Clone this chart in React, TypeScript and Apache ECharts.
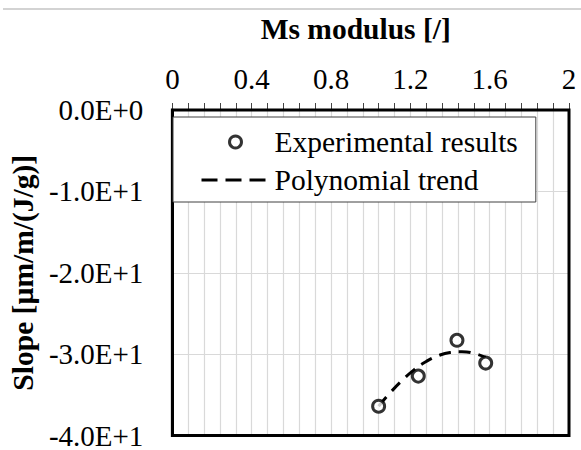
import React, { useEffect, useRef } from "react";
import * as echarts from "echarts";

const xTicks = [0, 0.4, 0.8, 1.2, 1.6, 2];
const yTicks = [-40, -30, -20, -10, 0];

const expModulus = [1.04, 1.24, 1.435, 1.58];
const expSlope = [-36.4, -32.7, -28.3, -31.1];

const trendModulus = [1.04, 1.1, 1.16, 1.22, 1.28, 1.34, 1.4, 1.46, 1.52, 1.58];
const trendSlope = [-36.4, -34.7, -33.2, -31.9, -30.9, -30.2, -29.8, -29.7, -29.9, -30.4];

const FONT = "'Liberation Serif', 'Times New Roman', serif";

function sci(v: number): string {
  if (v === 0) return "0.0E+0";
  const e = Math.floor(Math.log10(Math.abs(v)) + 1e-9);
  const m = v / Math.pow(10, e);
  return `${m.toFixed(1)}E+${e}`;
}

export default function App() {
  const ref = useRef<HTMLDivElement>(null);
  useEffect(() => {
    if (!ref.current) return;
    const chart = echarts.init(ref.current, null, { renderer: "svg" });
    const gridColor = "#d9d9d9";
    chart.setOption({
      animation: false,
      backgroundColor: "#ffffff",
      graphic: [
        {
          type: "line",
          shape: { x1: 3, y1: 9, x2: 581, y2: 9 },
          style: { stroke: "#c4c4c4", lineWidth: 1.5 },
        },
      ],
      grid: {
        left: 167,
        right: 12,
        top: 110,
        bottom: 8,
        show: true,
        borderColor: "#000",
        borderWidth: 3,
        backgroundColor: "transparent",
        z: 3,
      },
      legend: {
        orient: "vertical",
        left: 173,
        top: 117,
        padding: [10, 18, 7, 27],
        itemGap: 8,
        itemWidth: 68,
        itemHeight: 12,
        backgroundColor: "#ffffff",
        borderColor: "#404040",
        borderWidth: 1,
        borderRadius: 0,
        textStyle: { fontFamily: FONT, fontSize: 29.5, color: "#000" },
        lineStyle: { type: [16, 8], width: 3 },
        data: [
          {
            name: "Experimental results",
            itemStyle: { color: "#fff", borderColor: "#000", borderWidth: 3 },
          },
          {
            name: "Polynomial trend",
            itemStyle: { opacity: 0, color: "transparent", borderWidth: 0 },
          },
        ],
      },
      xAxis: {
        type: "value",
        position: "top",
        min: xTicks[0],
        max: xTicks[xTicks.length - 1],
        interval: 0.4,
        name: "Ms modulus [/]",
        nameLocation: "middle",
        nameGap: 66,
        nameTextStyle: {
          fontFamily: FONT,
          fontSize: 29.5,
          fontWeight: "bold",
          color: "#000",
          padding: [0, 30, 0, 0],
        },
        axisLine: { show: true, lineStyle: { color: "#000", width: 1 } },
        axisTick: { show: true, inside: false, length: 7, lineStyle: { color: "#444", width: 1 } },
        minorTick: { show: true, splitNumber: 5, length: 7, lineStyle: { color: "#444", width: 1 } },
        splitLine: { show: true, lineStyle: { color: gridColor, width: 1.2 } },
        minorSplitLine: { show: true, lineStyle: { color: gridColor, width: 1.2 } },
        axisLabel: {
          fontFamily: FONT,
          fontSize: 29,
          color: "#000",
          margin: 17,
          formatter: (v: number) => String(Math.round(v * 10) / 10),
        },
      },
      yAxis: {
        type: "value",
        min: yTicks[0],
        max: yTicks[yTicks.length - 1],
        interval: 10,
        name: "Slope [µm/m/(J/g)]",
        nameLocation: "middle",
        nameGap: 125,
        nameRotate: 90,
        nameTextStyle: { fontFamily: FONT, fontSize: 29.5, fontWeight: "bold", color: "#000" },
        axisLine: { show: true, lineStyle: { color: "#000", width: 3 } },
        axisTick: { show: false },
        splitLine: { show: true, lineStyle: { color: gridColor, width: 1.2 } },
        axisLabel: {
          fontFamily: FONT,
          fontSize: 29,
          color: "#000",
          margin: 29,
          formatter: (v: number) => sci(v),
        },
      },
      series: [
        {
          name: "Polynomial trend",
          type: "line",
          data: trendModulus.map((x, i) => [x, trendSlope[i]]),
          smooth: true,
          symbol: "none",
          showSymbol: false,
          lineStyle: { color: "#000", width: 3, type: [12, 8] },
          itemStyle: { color: "#000" },
          z: 2,
        },
        {
          name: "Experimental results",
          type: "scatter",
          data: expModulus.map((x, i) => [x, expSlope[i]]),
          symbol: "circle",
          symbolSize: 12,
          itemStyle: { color: "#fff", borderColor: "#000", borderWidth: 3 },
          z: 4,
        },
      ],
    });
    return () => chart.dispose();
  }, []);
  return (
    <div
      ref={ref}
      style={{ position: "fixed", left: 0, top: 0, width: 581, height: 450, background: "#fff" }}
    />
  );
}
